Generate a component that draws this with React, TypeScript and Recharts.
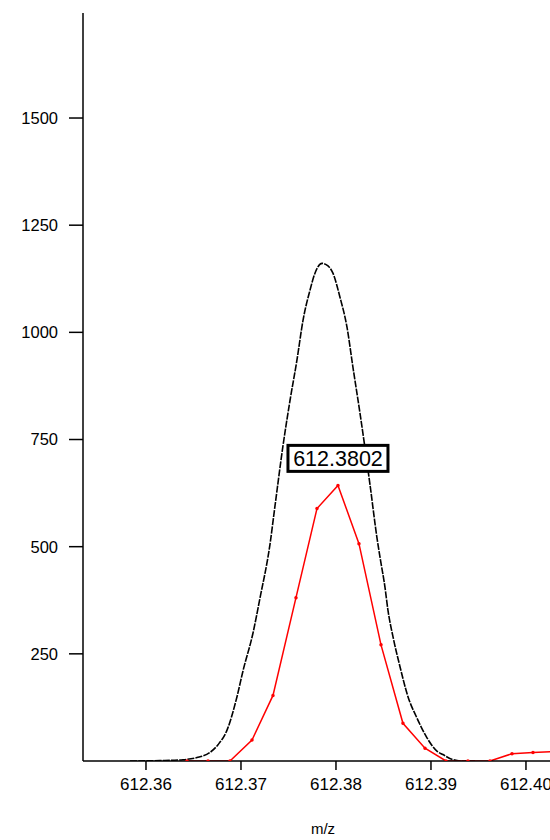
import React from "react";
import { LineChart, Line, XAxis, YAxis, ReferenceDot } from "recharts";

const profileMz = [612.35832, 612.36147, 612.36389, 612.36537, 612.36674, 612.36758, 612.36853, 612.36958, 612.37021, 612.37126, 612.372, 612.37305, 612.37358, 612.37442, 612.37516, 612.37589, 612.37653, 612.37726, 612.37779, 612.37853, 612.37916, 612.37968, 612.38042, 612.38116, 612.38179, 612.38253, 612.38305, 612.38358, 612.38432, 612.38463, 612.38516, 612.38547, 612.38600, 612.38674, 612.38758, 612.38853, 612.38958, 612.39063, 612.39126, 612.39232, 612.39337, 612.39463];
const profileIntensity = [0, 1, 3, 8, 20, 38, 72, 150, 210, 298, 380, 505, 595, 735, 841, 935, 1028, 1098, 1138, 1161, 1155, 1138, 1082, 1012, 918, 811, 731, 645, 520, 476, 405, 352, 290, 220, 150, 100, 54, 23, 15, 3, 0, 0];

const spectrumMz = [612.36432, 612.36653, 612.36884, 612.37116, 612.37337, 612.37579, 612.378, 612.38021, 612.38242, 612.38474, 612.38705, 612.38937, 612.39158, 612.39389, 612.39621, 612.39853, 612.40074, 612.40305];
const spectrumIntensity = [0, 0, 0, 49, 153, 381, 589, 643, 507, 271, 88, 30, 0, 0, 0, 17, 20, 22];

const xTicks = [612.36, 612.37, 612.38, 612.39, 612.4];
const yTicks = [250, 500, 750, 1000, 1250, 1500];
const peakLabel = "612.3802";
const peakMz = 612.38021;
const peakIntensity = 643;

const profileData = profileMz.map((mz, i) => ({ mz, v: profileIntensity[i] }));
const spectrumData = spectrumMz.map((mz, i) => ({ mz, v: spectrumIntensity[i] }));

const FONT = "'Liberation Sans', Arial, Helvetica, sans-serif";

const LabelBox = (props: any) => {
  const { cx, cy } = props;
  return (
    <g>
      <rect x={cx - 50} y={cy - 40} width={100} height={26} fill="#fff" stroke="#000" strokeWidth={3} />
      <text x={cx} y={cy - 19.5} textAnchor="middle" fontFamily={FONT} fontSize={21.5} fill="#000">
        {peakLabel}
      </text>
    </g>
  );
};

const XLabel = (props: any) => {
  const { viewBox } = props;
  return (
    <text x={323} y={viewBox.y + 73} textAnchor="middle" fontFamily={FONT} fontSize={15} fill="#000">
      m/z
    </text>
  );
};

export default function App() {
  return (
    <div style={{ position: "absolute", left: 0, top: 0, background: "#fff" }}>
      <LineChart width={550} height={840} margin={{ top: 13, right: 0, bottom: 0, left: 0 }}>
        <XAxis
          type="number"
          dataKey="mz"
          domain={[612.35337, 612.40253]}
          allowDataOverflow
          ticks={xTicks}
          tickFormatter={(v: number) => v.toFixed(2)}
          height={79}
          axisLine={{ stroke: "#000", strokeWidth: 1.5 }}
          tickLine={{ stroke: "#000", strokeWidth: 1.5 }}
          tickSize={9}
          tickMargin={8}
          tick={{ fill: "#000", fontSize: 17, fontFamily: FONT }}
          label={<XLabel />}
        />
        <YAxis
          type="number"
          dataKey="v"
          domain={[0, 1745]}
          allowDataOverflow
          ticks={yTicks}
          width={83}
          axisLine={{ stroke: "#000", strokeWidth: 1.5 }}
          tickLine={{ stroke: "#000", strokeWidth: 1.5 }}
          tickSize={14}
          tickMargin={11}
          tick={{ fill: "#000", fontSize: 16.5, fontFamily: FONT }}
        />
        <Line
          data={profileData}
          dataKey="v"
          type="monotone"
          stroke="#000"
          strokeWidth={1.6}
          strokeDasharray="7 1.2"
          dot={false}
          isAnimationActive={false}
        />
        <Line
          data={spectrumData}
          dataKey="v"
          type="linear"
          stroke="#ff0000"
          strokeWidth={1.5}
          dot={{ r: 1, fill: "#ff0000", stroke: "#ff0000" }}
          isAnimationActive={false}
        />
        <ReferenceDot x={peakMz} y={peakIntensity} r={0} shape={<LabelBox />} ifOverflow="visible" />
      </LineChart>
    </div>
  );
}
